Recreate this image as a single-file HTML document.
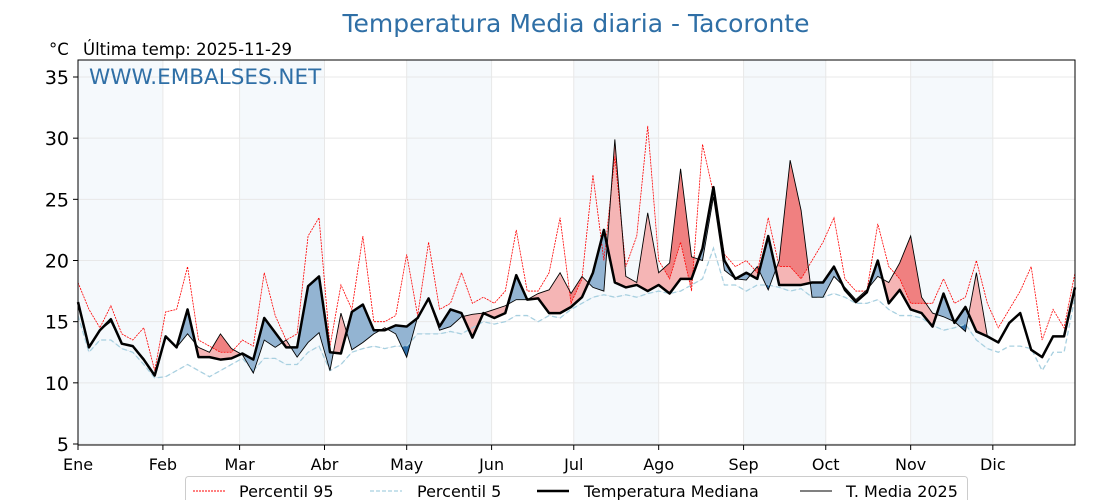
<!DOCTYPE html>
<html><head><meta charset="utf-8">
<style>
html,body{margin:0;padding:0;background:#fff;}
svg{display:block;font-family:"DejaVu Sans","Liberation Sans",sans-serif;}
</style></head>
<body>
<svg id="chart" width="1120" height="500" viewBox="0 0 1120 500" xmlns="http://www.w3.org/2000/svg">
<text x="576" y="32" text-anchor="middle" font-size="25" fill="#2f6fa6">Temperatura Media diaria - Tacoronte</text>
<text x="49" y="55" font-size="16.5" fill="#000">°C</text>
<text x="83" y="55" font-size="16.5" fill="#000">Última temp: 2025-11-29</text>
<g id="bands"></g>
<g id="grid"></g>
<defs id="defs"></defs>
<g id="fills"></g>
<g id="lines"></g>
<text x="89" y="84" font-size="21.5" fill="#2f6fa6">WWW.EMBALSES.NET</text>
<rect x="78" y="60" width="997" height="385" fill="none" stroke="#000" stroke-width="1"/>
<g id="axes"></g>
<g>
<rect x="185.5" y="476.5" width="782" height="40" rx="3" fill="#fff" stroke="#ccc"/>
<line x1="193" y1="491" x2="225" y2="491" stroke="red" stroke-width="1" stroke-dasharray="2,1"/>
<text x="239" y="497" font-size="16">Percentil 95</text>
<line x1="370" y1="491" x2="402" y2="491" stroke="#a8d0e0" stroke-width="1.3" stroke-dasharray="4,2"/>
<text x="417" y="497" font-size="16">Percentil 5</text>
<line x1="537" y1="491" x2="569" y2="491" stroke="#000" stroke-width="2.5"/>
<text x="584" y="497" font-size="16">Temperatura Mediana</text>
<line x1="800" y1="491" x2="832" y2="491" stroke="#000" stroke-width="1"/>
<text x="846" y="497" font-size="16">T. Media 2025</text>
</g>
</svg>
<script>
const days = [];
for (let d = 0; d <= 364; d += 4) days.push(d);
const median = [16.6,12.9,14.3,15.2,13.2,13,11.9,10.6,13.8,12.9,16,12.1,12.1,11.9,12,12.4,11.9,15.3,14.1,12.9,12.9,17.9,18.7,12.5,12.4,15.8,16.4,14.3,14.3,14.7,14.6,15.3,16.9,14.6,16,15.7,13.7,15.7,15.3,15.7,18.8,16.8,16.9,15.7,15.7,16.2,17,19,22.5,18.2,17.8,18,17.5,18,17.3,18.5,18.5,21,26,20,18.5,19,18.5,22,18,18,18,18.2,18.2,19.5,17.6,16.6,17.4,20,16.5,17.6,16,15.7,14.6,17.3,14.9,16.2,14.2,13.8,13.3,14.9,15.7,12.7,12.1,13.8,13.8,17.8];
const temp2025 = [16.6,13,14.3,15,13.2,13,12,10.6,13.8,12.9,14,12.9,12.5,14,12.8,12.3,10.8,13.5,12.9,13.5,12.1,13.3,14.1,11,15.7,12.7,13.3,14,14.5,14,12.1,15.4,16.8,14.3,14.6,15.4,15.6,15.7,16,16.3,16.8,16.8,17.3,17.6,19,17.3,18.7,17.8,17.5,29.9,18.7,18.2,23.9,19,19.8,27.5,20.3,20,25.2,19.2,18.5,18.4,19.5,17.6,20,28.2,24.1,17,17,18.7,17.8,16.8,17.6,18.7,18.2,19.8,22,17,15.7,15.4,15,14.2,19,13.8];
const p95 = [18.2,16,14.5,16.3,14,13.5,14.5,11,15.8,16,19.5,13.5,13,12.5,12.5,13.5,13,19,15.5,13.5,14,22,23.5,13,18,16,22,15,15,15.5,20.5,15.5,21.5,16,16.5,19,16.5,17,16.5,17.5,22.5,17.5,17.5,19,23.5,16.5,18.5,27,20,28.5,19.5,22,31,20,18.5,21.5,17.5,29.5,25.5,20.5,19.5,20,19,23.5,19.5,19.5,18.5,20,21.5,23.5,18.5,17.5,17.5,23,19.5,18.5,16.5,16.5,16.5,18.5,16.5,17,20,16.5,14.5,16,17.5,19.5,13.5,16,14.5,19];
const p5 = [15.5,12.5,13.5,13.5,12.8,12.5,11.5,10.4,10.5,11,11.5,11,10.5,11,11.5,12,11,12,12,11.5,11.5,12.5,13,11,11.5,12.5,12.8,13,12.8,13,13,14,14,14,14.2,14,14.5,15,14.8,15,15.5,15.5,15,15.5,15.3,16,16.5,17,17.2,17,17.2,17,17.3,17.5,17.3,17.5,18,18.5,21,18,18,17.5,18,18,17.8,17.5,17.7,17,17,17.3,17,16.5,16.5,16.8,16,15.5,15.5,15.3,14.7,14.3,14.5,14.8,13.5,12.8,12.5,13,13,12.8,11,12.5,12.5,17];
const yTicks = [5,10,15,20,25,30,35];
const monthLabels = ["Ene","Feb","Mar","Abr","May","Jun","Jul","Ago","Sep","Oct","Nov","Dic"];
const monthStarts = [0,31,59,90,120,151,181,212,243,273,304,334];

const NS = "http://www.w3.org/2000/svg";
const X0 = 78, X1 = 1075, Y0 = 60, Y1 = 445;
const xs = d => X0 + d * (X1 - X0) / 364;
const ys = v => 444 - (v - 5) * (444 - 77) / 30;
function mk(tag, attrs, parent) {
  const e = document.createElementNS(NS, tag);
  for (const k in attrs) e.setAttribute(k, attrs[k]);
  parent.appendChild(e);
  return e;
}
const bands = document.getElementById('bands');
const grid = document.getElementById('grid');
const axes = document.getElementById('axes');
const defs = document.getElementById('defs');
const fills = document.getElementById('fills');
const lines = document.getElementById('lines');

for (let i = 0; i < 12; i += 2) {
  const a = xs(monthStarts[i]), b = xs(monthStarts[i + 1]);
  const r = mk('rect', {x: a, y: Y0, width: b - a, height: Y1 - Y0, fill: '#f5f9fc'}, bands);
  
  
}
yTicks.forEach(v => {
  const y = ys(v);
  const g = mk('line', {x1: X0, x2: X1, y1: y, y2: y, stroke: '#e8e8e8', 'stroke-width': 1}, grid);
  
  
  const t = mk('line', {x1: X0 - 5, x2: X0, y1: y, y2: y, stroke: '#000'}, axes);
  
  
  const l = mk('text', {x: X0 - 9, y: y + 7, 'text-anchor': 'end', 'font-size': 19}, axes);
  l.textContent = v;
  
  
});
monthStarts.forEach((d, i) => {
  const x = xs(d);
  const g = mk('line', {x1: x, x2: x, y1: Y0, y2: Y1, stroke: '#e8e8e8', 'stroke-width': 1}, grid);
  
  
  const t = mk('line', {x1: x, x2: x, y1: Y1, y2: Y1 + 5, stroke: '#000'}, axes);
  
  
  const l = mk('text', {x: x, y: 470, 'text-anchor': 'middle', 'font-size': 16}, axes);
  l.textContent = monthLabels[i];
  
  
});

const n = temp2025.length;
const pts = (arr, m) => arr.slice(0, m).map((v, i) => xs(days[i]) + ',' + ys(v));
function band(a, b) {
  return pts(a, n).concat(pts(b, n).reverse()).join(' ');
}
function clipRegion(id, arr, above) {
  const cp = mk('clipPath', {id: id}, defs);
  const p = pts(arr, n);
  const yEdge = above ? Y0 : Y1;
  p.push(xs(days[n - 1]) + ',' + yEdge, xs(0) + ',' + yEdge);
  mk('polygon', {points: p.join(' ')}, cp);
}
clipRegion('abMed', median, true);
clipRegion('beMed', median, false);
clipRegion('abP95', p95, true);
clipRegion('beP5', p5, false);
const f1 = mk('polygon', {points: band(temp2025, median), fill: '#f5b5b5', 'clip-path': 'url(#abMed)'}, fills);


const f2 = mk('polygon', {points: band(temp2025, p95), fill: '#f08080', 'clip-path': 'url(#abP95)'}, fills);


const f3 = mk('polygon', {points: band(temp2025, median), fill: '#93b4d2', 'clip-path': 'url(#beMed)'}, fills);


const f4 = mk('polygon', {points: band(temp2025, p5), fill: '#2c6aa2', 'clip-path': 'url(#beP5)'}, fills);



const l95 = mk('polyline', {points: pts(p95, p95.length).join(' '), fill: 'none', stroke: 'red', 'stroke-width': 0.8, 'stroke-dasharray': '2,1'}, lines);


const l5 = mk('polyline', {points: pts(p5, p5.length).join(' '), fill: 'none', stroke: '#a8d0e0', 'stroke-width': 1.3, 'stroke-dasharray': '5,3'}, lines);


const lm = mk('polyline', {points: pts(median, median.length).join(' '), fill: 'none', stroke: '#000', 'stroke-width': 2.5, 'stroke-linejoin': 'round'}, lines);


const lt = mk('polyline', {points: pts(temp2025, n).join(' '), fill: 'none', stroke: '#000', 'stroke-width': 0.9}, lines);


</script>
</body></html>
